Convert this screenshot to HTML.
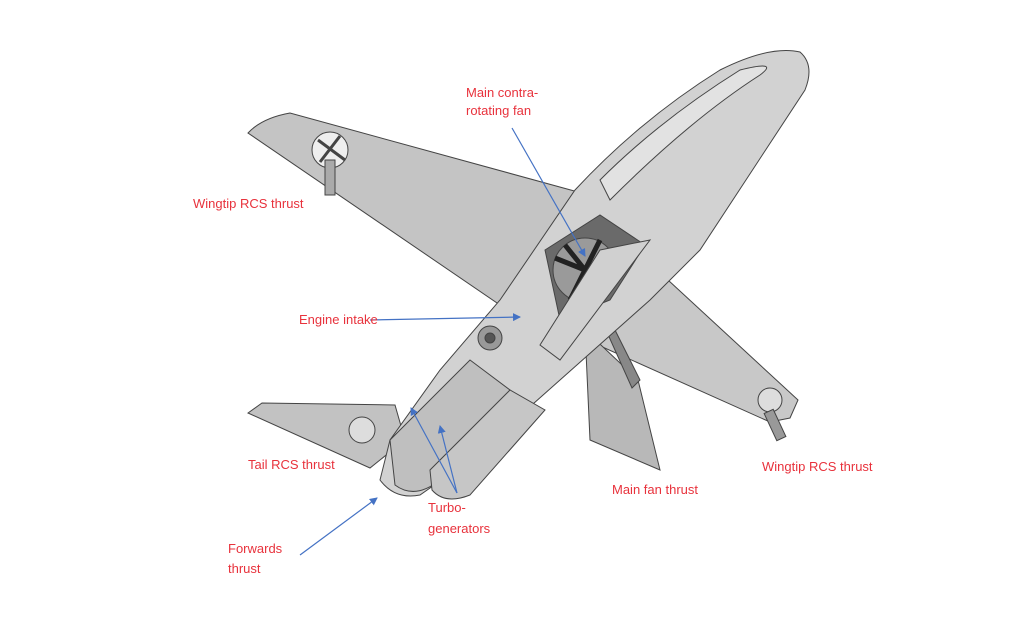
<!DOCTYPE html>
<html><head><meta charset="utf-8"><style>
html,body{margin:0;padding:0;background:#fff;}
svg{display:block}
text{font-family:"Liberation Sans",sans-serif;font-size:13px;fill:#e8323c}
</style></head><body>
<svg width="1024" height="622" viewBox="0 0 1024 622">
<defs>
<marker id="ah" markerWidth="8" markerHeight="8" refX="7" refY="4" orient="auto" markerUnits="userSpaceOnUse"><path d="M0,0 L8,4 L0,8z" fill="#4472c4"/></marker>
</defs>
<g stroke="#444" stroke-width="1" fill="#c9c9c9">
<!-- left wing -->
<path d="M248,133 Q262,118 290,113 L578,192 L560,262 L500,305 Z" fill="#c4c4c4"/>
<!-- right wing -->
<path d="M655,268 L798,400 L790,418 L770,422 L598,345 Z" fill="#c8c8c8"/>
<!-- ventral fin -->
<path d="M585,330 L638,380 L660,470 L590,440 Z" fill="#b8b8b8"/>
<path d="M610,320 L640,380 L632,388 L606,330Z" fill="#888"/>
<!-- tail plane -->
<path d="M248,413 L262,403 L395,405 L405,440 L370,468 Z" fill="#c2c2c2"/>
<!-- fuselage -->
<path d="M575,190 Q640,120 720,70 Q770,45 800,52 Q815,65 805,90 L700,250 L650,300 L560,380 L470,460 L420,495 Q395,500 380,480 L390,440 L440,370 L500,300 Z" fill="#d2d2d2"/>
<path d="M600,180 Q660,120 740,70 Q780,60 760,75 Q690,120 610,200 Z" fill="#e2e2e2"/>
<!-- engine pods -->
<path d="M390,440 L470,360 L510,390 L440,480 Q415,500 395,485 Z" fill="#bfbfbf"/>
<path d="M430,470 L510,390 L545,410 L470,495 Q445,505 432,490Z" fill="#c6c6c6"/>
<!-- fan opening -->
<path d="M545,250 L600,215 L645,245 L610,300 L560,320 Z" fill="#6a6a6a"/>
<circle cx="585" cy="270" r="32" fill="#9a9a9a"/>
<path d="M585,270 L555,258 M585,270 L600,240 M585,270 L615,275 M585,270 L570,300 M585,270 L565,245 M585,270 L605,295" stroke="#222" stroke-width="5"/>
<path d="M600,250 L650,240 L560,360 L540,345 Z" fill="#d0d0d0"/>
<!-- intake -->
<circle cx="490" cy="338" r="12" fill="#999"/>
<circle cx="490" cy="338" r="5" fill="#555"/>
<!-- wing fans -->
<circle cx="330" cy="150" r="18" fill="#eee"/>
<path d="M318,140 L345,160 M340,136 L320,162" stroke-width="3"/>
<rect x="325" y="160" width="10" height="35" fill="#aaa"/>
<circle cx="362" cy="430" r="13" fill="#ddd"/>
<circle cx="770" cy="400" r="12" fill="#ddd"/>
<rect x="770" y="410" width="10" height="30" fill="#999" transform="rotate(-25 775 425)"/>
</g>
<g stroke="#4472c4" stroke-width="1.2" fill="none" marker-end="url(#ah)">
<line x1="512" y1="128" x2="585" y2="256"/>
<line x1="370" y1="320" x2="520" y2="317"/>
<line x1="457" y1="493" x2="411" y2="408"/>
<line x1="457" y1="493" x2="440" y2="426"/>
<line x1="300" y1="555" x2="377" y2="498"/>
</g>
<text x="466" y="97">Main  contra-</text>
<text x="466" y="115">rotating fan</text>
<text x="193" y="208">Wingtip RCS thrust</text>
<text x="299" y="324">Engine intake</text>
<text x="248" y="469">Tail RCS thrust</text>
<text x="762" y="471">Wingtip RCS thrust</text>
<text x="612" y="494">Main fan thrust</text>
<text x="428" y="512">Turbo-</text>
<text x="428" y="533">generators</text>
<text x="228" y="553">Forwards</text>
<text x="228" y="573">thrust</text>
</svg>
</body></html>
